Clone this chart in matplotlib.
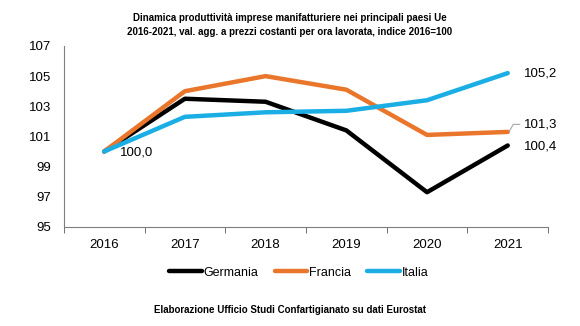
import matplotlib.pyplot as plt
from matplotlib import font_manager

# Dati: indice 2016=100
anni = ["2016", "2017", "2018", "2019", "2020", "2021"]
germania = [100.0, 103.5, 103.3, 101.4, 97.3, 100.4]
francia = [100.0, 104.0, 105.0, 104.1, 101.1, 101.3]
italia = [100.0, 102.3, 102.6, 102.7, 103.4, 105.2]

nomi = {f.name for f in font_manager.fontManager.ttflist}
famiglia = "Liberation Sans Narrow" if "Liberation Sans Narrow" in nomi else "Liberation Sans"
plt.rcParams["font.family"] = [famiglia, "DejaVu Sans"]

fig = plt.figure(figsize=(5.8, 3.26), dpi=100)
ax = fig.add_axes([0.110, 0.304, 0.835, 0.555])

x = list(range(len(anni)))
ax.plot(x, germania, color="black", lw=3.2, solid_capstyle="round", label="Germania")
ax.plot(x, francia, color="#E9762B", lw=3.2, solid_capstyle="round", label="Francia")
ax.plot(x, italia, color="#1BAEE5", lw=3.2, solid_capstyle="round", label="Italia")

ax.set_xlim(-0.5, len(anni) - 0.5)
ax.set_ylim(95, 107)
ax.set_yticks(range(95, 108, 2))
ax.set_xticks(x)
ax.set_xticklabels(anni)
ax.set_xticks([i - 0.5 for i in range(len(anni) + 1)], minor=True)
ax.tick_params(axis="x", which="major", length=0, pad=9, labelsize=9.5)
ax.tick_params(axis="x", which="minor", length=4, color="#595959")
ax.tick_params(axis="y", length=0, pad=9, labelsize=9.5)

for s in ["top", "right"]:
    ax.spines[s].set_visible(False)
for s in ["left", "bottom"]:
    ax.spines[s].set_color("#7f7f7f")

# Etichette valori
fmt = lambda v: f"{v:.1f}".replace(".", ",")
ax.text(x[0] + 0.2, germania[0] - 0.05, fmt(germania[0]), fontsize=9.5, va="center", ha="left")
ax.text(x[-1] + 0.2, italia[-1], fmt(italia[-1]), fontsize=9.5, va="center", ha="left")
ax.annotate(fmt(francia[-1]), xy=(x[-1] + 0.02, francia[-1] + 0.05), xytext=(x[-1] + 0.2, francia[-1] + 0.5),
            fontsize=9.5, va="center", ha="left",
            arrowprops=dict(arrowstyle="-", color="#a6a6a6", lw=0.8, shrinkA=1, shrinkB=0,
                            connectionstyle="angle,angleA=0,angleB=60,rad=0"))
ax.text(x[-1] + 0.2, germania[-1] - 0.1, fmt(germania[-1]), fontsize=9.5, va="center", ha="left")

fig.text(0.5, 0.96, "Dinamica produttività imprese manifatturiere nei principali paesi Ue\n"
         "2016-2021, val. agg. a prezzi costanti per ora lavorata, indice 2016=100",
         ha="center", va="top", fontsize=7, fontweight="bold", linespacing=1.45)

fig.legend(loc="center", bbox_to_anchor=(0.515, 0.163), ncol=3, frameon=False, fontsize=9,
           handlelength=2.6, handletextpad=0.15, columnspacing=1.3)

fig.text(0.5, 0.048, "Elaborazione Ufficio Studi Confartigianato su dati Eurostat",
         ha="center", va="center", fontsize=7, fontweight="bold")

fig.savefig("out.png", dpi=100)
